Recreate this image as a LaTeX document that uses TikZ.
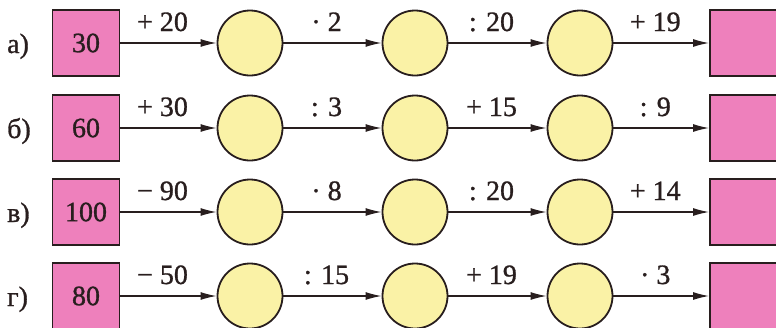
\documentclass[tikz,border=0pt]{standalone}
\usepackage{fontspec}
\setmainfont{Liberation Serif}[FakeBold=1.0]
\usetikzlibrary{arrows.meta}
\definecolor{pinkbox}{RGB}{238,128,188}
\definecolor{yellowc}{RGB}{250,242,166}
\definecolor{inkc}{RGB}{40,30,30}
\begin{document}
\begin{tikzpicture}[x=1pt,y=-1pt,
 sq/.style={draw=inkc, line width=1.8pt, fill=pinkbox, minimum width=67pt, minimum height=66pt, inner sep=0pt, text=inkc, font=\fontsize{28}{28}\selectfont},
 circ/.style={circle, draw=inkc, line width=1.8pt, fill=yellowc, minimum size=65pt, inner sep=0pt},
 conn/.style={draw=inkc, line width=1.3pt, -{Latex[length=16pt,width=8pt]}},
 op/.style={font=\fontsize{28}{28}\selectfont, text=inkc, inner sep=0pt, anchor=base, xshift=-6pt, yshift=12pt},
 rowlab/.style={font=\fontsize{28}{28}\selectfont, text=inkc, inner sep=0pt, anchor=base west}]
\useasboundingbox (0,0) rectangle (776,327);
\foreach \r/\y/\st/\oa/\ob/\oc/\od in {
  а)/43/30/{+ 20}/{· 2}/{: 20}/{+ 19},
  б)/128/60/{+ 30}/{: 3}/{+ 15}/{: 9},
  в)/212/100/{− 90}/{· 8}/{: 20}/{+ 14},
  г)/296/80/{− 50}/{: 15}/{+ 19}/{· 3}}{
  \node[rowlab] (l\y) at (7,\y+10) {\r};
  \node[sq] (s\y) at (86,\y) {\st};
  \node[circ] (a\y) at (250,\y) {};
  \node[circ] (b\y) at (415,\y) {};
  \node[circ] (c\y) at (580,\y) {};
  \node[sq] (e\y) at (743.5,\y) {};
  \draw[conn] (s\y) -- node[op] {\oa} (a\y);
  \draw[conn] (a\y) -- node[op] {\ob} (b\y);
  \draw[conn] (b\y) -- node[op] {\oc} (c\y);
  \draw[conn] (c\y) -- node[op] {\od} (e\y);
}
\end{tikzpicture}
\end{document}
